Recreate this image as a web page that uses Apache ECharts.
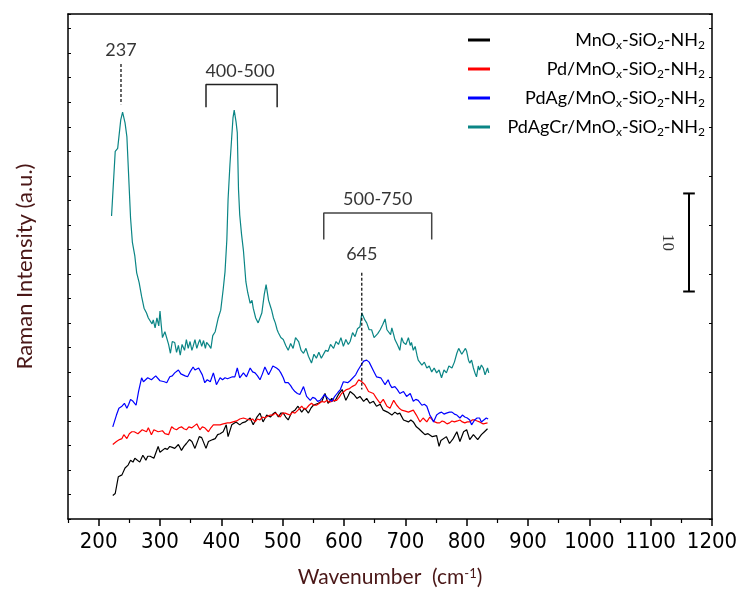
<!DOCTYPE html>
<html>
<head>
<meta charset="utf-8">
<script src="https://cdn.jsdelivr.net/npm/echarts@6/dist/echarts.min.js"></script>
<style>html,body{margin:0;padding:0;background:#fff}#c{width:743px;height:594px}</style>
</head>
<body>
<div id="c"></div>
<script>
// ---- data: [wavenumber (cm-1), intensity (a.u.)] ----
const seriesNames = ['MnOx-SiO2-NH2', 'Pd/MnOx-SiO2-NH2', 'PdAg/MnOx-SiO2-NH2', 'PdAgCr/MnOx-SiO2-NH2'];
const xMajorTicks = [200, 300, 400, 500, 600, 700, 800, 900, 1000, 1100, 1200];
const xMinorTicks = [150, 250, 350, 450, 550, 650, 750, 850, 950, 1050, 1150];

const blackData = [[223,2.4],[227,2.6],[232,4.3],[235,4.2],[238,4.5],[243,5.2],[248,5.5],[252,6.0],[256,5.8],[259,6.2],[262,6.0],[267,5.8],[272,6.5],[277,6.0],[280,6.4],[284,6.4],[287,6.5],[290,6.2],[297,7.4],[300,6.8],[303,6.9],[308,7.2],[312,7.1],[316,7.4],[320,7.3],[324,7.2],[330,7.6],[335,7.0],[339,7.4],[343,7.7],[348,8.1],[352,7.9],[357,7.2],[364,8.4],[368,8.3],[371,8.2],[375,7.2],[379,7.9],[382,7.9],[386,8.1],[390,8.2],[394,8.6],[398,8.7],[403,8.9],[408,9.6],[411,8.4],[417,9.6],[420,9.7],[424,9.9],[427,9.7],[430,9.6],[434,9.8],[439,9.9],[443,10.1],[447,10.3],[452,9.6],[458,10.4],[463,10.8],[468,9.9],[474,10.6],[480,10.4],[484,10.7],[488,10.9],[493,10.4],[497,10.8],[501,10.8],[505,10.4],[509,10.1],[515,10.9],[520,11.1],[525,11.5],[531,10.9],[536,11.3],[542,10.8],[546,11.3],[550,11.6],[554,11.7],[558,11.8],[564,12.0],[569,12.8],[574,11.8],[580,12.3],[585,12.0],[591,12.7],[597,13.2],[603,12.1],[607,12.6],[610,13.0],[616,12.7],[621,12.3],[626,12.5],[632,12.0],[637,12.3],[642,11.8],[648,12.0],[653,11.5],[659,11.7],[664,11.1],[671,10.9],[678,10.6],[683,10.9],[687,10.7],[691,10.8],[697,10.1],[705,9.9],[709,10.1],[713,9.9],[718,9.4],[722,9.2],[727,8.9],[732,8.6],[737,8.7],[744,8.4],[751,8.5],[755,7.4],[758,8.0],[761,8.1],[767,8.4],[772,7.7],[778,8.2],[784,8.9],[789,7.9],[795,8.9],[800,9.1],[805,8.1],[811,8.6],[818,8.1],[824,8.6],[829,8.9],[834,9.2]];

const redData = [[223,7.6],[229,7.9],[234,8.1],[238,8.2],[241,8.6],[246,8.2],[250,8.7],[254,8.9],[258,8.9],[261,9.1],[264,8.7],[267,8.7],[271,9.1],[274,9.1],[278,8.9],[281,9.3],[286,8.6],[290,9.1],[293,9.2],[297,8.9],[300,9.0],[304,9.0],[308,8.7],[314,8.6],[319,9.4],[323,9.2],[327,9.1],[331,9.3],[335,9.4],[339,9.2],[343,9.1],[347,9.4],[352,9.3],[356,9.5],[360,9.7],[365,9.1],[369,9.4],[373,9.3],[379,8.9],[383,9.3],[387,9.6],[393,9.6],[398,9.6],[403,9.7],[406,9.6],[410,9.8],[414,9.8],[419,9.9],[425,10.0],[430,10.2],[436,10.3],[441,10.2],[447,10.1],[451,10.2],[455,9.9],[459,10.2],[463,10.1],[467,10.4],[471,10.3],[476,10.5],[480,10.6],[484,10.6],[488,10.8],[492,10.6],[496,10.4],[500,10.8],[504,10.8],[508,10.7],[512,10.6],[516,10.9],[520,10.8],[525,11.1],[531,11.5],[535,11.2],[539,11.3],[543,11.6],[547,11.8],[551,11.6],[555,11.6],[560,11.8],[564,12.0],[568,11.9],[572,12.1],[576,11.9],[580,12.0],[584,12.1],[588,12.1],[592,12.4],[596,12.8],[600,13.0],[604,13.2],[609,13.3],[613,13.5],[619,13.7],[624,14.2],[627,14.1],[629,14.0],[634,13.7],[640,13.0],[644,12.9],[648,12.8],[653,12.3],[659,11.8],[664,12.2],[670,11.5],[675,11.3],[681,12.1],[686,11.6],[690,11.3],[694,11.1],[700,11.0],[705,10.9],[709,11.0],[713,11.1],[718,10.6],[724,9.9],[729,10.3],[735,9.9],[740,10.4],[744,10.1],[748,9.9],[752,9.8],[756,9.8],[760,10.0],[764,9.9],[768,9.7],[772,9.8],[776,10.0],[780,9.9],[785,10.0],[789,10.1],[793,9.9],[797,9.8],[801,9.9],[805,9.9],[809,10.1],[813,10.1],[817,10.0],[821,9.9],[827,9.7],[830,9.8],[834,9.8]];

const blueData = [[223,9.4],[229,10.6],[233,11.3],[238,11.5],[242,11.8],[246,11.3],[249,11.7],[252,12.2],[256,12.0],[261,11.6],[265,13.0],[270,14.4],[273,14.0],[276,14.0],[280,14.4],[283,14.5],[286,14.2],[289,14.2],[293,14.6],[296,14.4],[300,14.1],[303,13.9],[307,14.0],[311,13.9],[316,14.5],[320,14.6],[324,14.9],[330,15.2],[334,14.8],[337,14.7],[341,14.6],[345,14.5],[349,15.0],[354,15.5],[357,15.2],[360,15.0],[363,15.4],[365,15.6],[369,14.7],[373,13.9],[377,14.2],[382,14.0],[387,14.9],[390,14.2],[392,13.7],[398,14.4],[402,14.2],[406,14.4],[410,14.3],[414,14.4],[418,14.5],[422,14.5],[426,15.4],[430,14.4],[436,14.9],[441,14.5],[447,15.4],[451,15.0],[455,14.9],[459,14.6],[463,14.2],[467,14.8],[471,15.5],[477,14.7],[481,15.2],[484,15.6],[490,15.4],[494,15.2],[497,14.9],[501,14.4],[504,13.9],[509,13.9],[513,13.6],[516,13.3],[520,13.0],[524,12.8],[528,12.7],[534,13.5],[539,12.5],[545,12.1],[549,12.4],[553,12.3],[557,12.0],[561,12.1],[565,12.4],[568,12.7],[574,12.3],[580,12.0],[585,12.5],[590,12.9],[594,13.2],[599,14.0],[602,13.8],[606,13.9],[610,14.1],[613,14.2],[619,14.7],[623,15.2],[626,15.5],[629,15.7],[632,16.1],[637,16.2],[641,16.0],[644,15.9],[649,15.0],[653,14.5],[656,14.5],[660,14.4],[664,14.0],[667,13.7],[672,14.2],[675,13.7],[678,13.4],[683,13.5],[687,13.2],[691,12.8],[697,13.0],[702,12.5],[708,12.8],[713,12.0],[717,12.2],[721,12.1],[727,11.6],[731,11.7],[735,11.5],[740,10.6],[743,10.3],[746,9.9],[751,10.6],[755,10.8],[759,10.9],[763,10.7],[767,10.8],[772,10.9],[776,10.9],[780,10.7],[784,10.6],[789,10.3],[793,10.6],[797,10.4],[801,10.3],[805,10.1],[808,9.6],[813,10.1],[817,10.3],[821,10.3],[824,9.9],[827,10.1],[832,10.3],[835,10.2]];

const tealData = [[221,30.9],[227,37.5],[231,37.8],[236,40.7],[239,41.5],[243,40.4],[246,39.0],[252,30.7],[255,28.2],[259,26.8],[262,25.1],[266,24.1],[270,22.7],[274,21.5],[278,21.0],[281,20.5],[284,20.7],[287,19.9],[289,20.3],[292,19.5],[295,20.5],[298,19.7],[300,21.2],[302,19.8],[304,18.5],[308,19.1],[311,19.0],[314,17.8],[317,16.9],[320,18.1],[324,18.0],[327,17.0],[330,17.7],[333,16.7],[336,17.8],[340,17.2],[343,18.3],[346,17.4],[349,18.1],[352,17.2],[354,17.6],[357,18.3],[360,17.4],[363,18.0],[365,18.3],[368,17.6],[371,18.2],[374,17.4],[376,18.0],[380,17.7],[383,17.4],[386,18.7],[390,19.1],[393,19.0],[395,20.5],[399,21.3],[403,23.4],[406,25.2],[409,28.5],[411,32.6],[414,36.1],[417,39.0],[419,40.9],[421,41.7],[424,40.5],[426,39.4],[428,33.6],[430,31.0],[433,29.0],[436,27.4],[440,24.2],[443,23.1],[447,22.0],[450,22.3],[452,21.5],[456,20.5],[460,20.0],[463,20.5],[466,21.0],[470,22.9],[473,23.9],[477,22.3],[480,21.7],[482,21.3],[485,20.5],[488,20.0],[491,19.3],[493,19.0],[497,18.5],[501,18.3],[505,17.7],[509,17.2],[513,17.9],[517,17.4],[521,18.5],[526,18.1],[530,17.2],[534,16.9],[538,17.4],[542,16.6],[545,16.2],[547,15.9],[551,16.8],[555,16.4],[559,17.0],[563,16.4],[566,16.6],[570,17.2],[574,17.1],[578,17.8],[583,17.4],[587,18.1],[591,17.8],[595,18.5],[599,17.6],[603,18.3],[607,17.8],[610,18.1],[614,19.0],[618,18.6],[622,19.4],[626,19.6],[629,21.0],[631,20.8],[634,20.3],[637,20.0],[641,19.3],[645,19.3],[649,18.5],[651,18.3],[655,18.9],[659,19.3],[663,19.8],[667,20.4],[670,19.3],[672,19.5],[676,18.8],[678,19.5],[681,18.8],[683,18.3],[687,17.8],[691,17.2],[694,18.5],[697,18.0],[701,17.8],[705,18.5],[708,17.7],[710,18.0],[713,17.2],[716,17.6],[719,16.7],[721,16.2],[724,16.4],[727,15.7],[731,16.0],[735,15.4],[739,15.6],[743,15.0],[747,15.4],[751,14.9],[755,15.2],[759,14.4],[763,15.2],[767,14.9],[771,15.6],[776,15.4],[780,16.0],[784,16.9],[787,17.4],[789,17.6],[792,16.8],[795,16.7],[798,17.4],[800,17.1],[803,16.2],[805,15.9],[808,16.2],[811,15.4],[814,14.8],[816,14.5],[819,15.6],[821,15.2],[824,15.7],[827,15.4],[830,14.7],[832,14.7],[834,15.4],[836,14.9]];

const seriesData = [blackData, redData, blueData, tealData];
const seriesColors = ['#000000', '#ff0000', '#0000ff', '#0a8585'];

// annotation labels
const peakLabels = ['237', '645'];
const rangeLabels = ['400-500', '500-750'];
const scaleLabel = '10';

// ---- chart ----
const chart = echarts.init(document.getElementById('c'));
const sansFont = 'Lato, "Open Sans", sans-serif';
const tickFont = '"Liberation Sans Narrow", "DejaVu Sans Condensed", sans-serif';

function richName(n) {
  let s = n.replace(/Ox/g, 'O}{s|x}{n|').replace(/([A-Za-z])2/g, '$1}{s|2}{n|');
  return ('{n|' + s + '}').replace(/\{n\|\}/g, '');
}

function segSeries(points, opts) {
  return Object.assign({
    type: 'line', data: points, showSymbol: false, silent: true, animation: false,
    xAxisIndex: 0, yAxisIndex: 0, z: 5,
    lineStyle: { color: '#000', width: 1.3 }
  }, opts || {});
}
function textSeries(items, opts) {
  return {
    type: 'scatter', silent: true, animation: false, symbolSize: 0, z: 6,
    data: items.map(it => ({ value: [it.x, it.y], label: { formatter: it.t, rotate: it.rot || 0 } })),
    label: Object.assign({ show: true, position: 'inside', color: '#000', fontSize: 18, fontFamily: sansFont }, opts || {})
  };
}

const mainSeries = seriesNames.map((n, i) => ({
  name: n, type: 'line', data: seriesData[i], showSymbol: false, animation: false,
  lineStyle: { color: seriesColors[i], width: 1.2 }, itemStyle: { color: seriesColors[i] }, z: 3
}));

const annSeries = [
  segSeries([[236.4, 46.4], [236.4, 42.3]], { lineStyle: { color: '#000', width: 1.2, type: [3, 2] } }),
  segSeries([[629, 25.1], [629, 13.2]], { lineStyle: { color: '#000', width: 1.2, type: [3, 2] } }),
  segSeries([[375, 42.0], [375, 44.3], [491, 44.3], [491, 42.0]], { lineStyle: { color: '#222', width: 1.5 } }),
  segSeries([[567, 28.5], [567, 31.2], [743, 31.2], [743, 28.5]], { lineStyle: { color: '#444', width: 1.5 } }),
  segSeries([[1162.5, 23.2], [1162.5, 33.2]], { lineStyle: { color: '#000', width: 2 } }),
  segSeries([[1153, 33.2], [1172, 33.2]], { lineStyle: { color: '#000', width: 2 } }),
  segSeries([[1153, 23.2], [1172, 23.2]], { lineStyle: { color: '#000', width: 2 } }),
  textSeries([
    { x: 236.4, y: 47.8, t: peakLabels[0] },
    { x: 629, y: 27.0, t: peakLabels[1] },
    { x: 430.5, y: 45.7, t: rangeLabels[0] },
    { x: 655, y: 32.6, t: rangeLabels[1] }
  ]),
  textSeries([{ x: 1128, y: 28.2, t: scaleLabel, rot: -90 }], { fontFamily: '"Liberation Serif", "DejaVu Serif", serif', fontSize: 17 })
];

const option = {
  animation: false,
  backgroundColor: '#fff',
  grid: { left: 68, right: 31, top: 14, bottom: 75, containLabel: false },
  legend: {
    data: seriesNames,
    orient: 'vertical', left: 463, top: 26,
    icon: 'rect', itemWidth: 22, itemHeight: 3, itemGap: 9,
    formatter: richName,
    textStyle: {
      width: 210, align: 'right', color: '#000',
      rich: {
        n: { fontSize: 18, fontFamily: sansFont, color: '#000', lineHeight: 22, align: 'right' },
        s: { fontSize: 12, fontFamily: sansFont, color: '#000', lineHeight: 12, verticalAlign: 'bottom', align: 'right' }
      }
    }
  },
  xAxis: [
    {
      type: 'value', min: 150, max: 1200, position: 'bottom',
      name: '{n|Wavenumber  (cm}{u|-1}{n|)}', nameLocation: 'middle', nameGap: 48,
      nameTextStyle: { rich: {
        n: { fontSize: 21, fontFamily: sansFont, color: '#4a1717' },
        u: { fontSize: 13, fontFamily: sansFont, color: '#4a1717', verticalAlign: 'top', padding: [0, 0, 8, 0] }
      } },
      axisLine: { show: true, lineStyle: { color: '#000', width: 1.5 } },
      axisTick: { show: true, length: 7, customValues: xMajorTicks, lineStyle: { color: '#000', width: 1.5 } },
      axisLabel: { show: true, customValues: xMajorTicks, formatter: v => String(v), fontSize: 22, fontFamily: tickFont, color: '#000', margin: 12 },
      splitLine: { show: false }
    },
    {
      type: 'value', min: 150, max: 1200, position: 'bottom',
      axisLine: { show: false },
      axisTick: { show: true, length: 4, customValues: xMinorTicks, lineStyle: { color: '#000', width: 1.2 } },
      axisLabel: { show: false }, splitLine: { show: false }
    },
    {
      type: 'value', min: 150, max: 1200, position: 'top',
      axisLine: { show: true, lineStyle: { color: '#000', width: 1.5 } },
      axisTick: { show: false }, axisLabel: { show: false }, splitLine: { show: false }
    }
  ],
  yAxis: [
    {
      type: 'value', min: 0, max: 51.5, interval: 2.5, position: 'left',
      name: 'Raman Intensity (a.u.)', nameLocation: 'middle', nameGap: 32,
      nameTextStyle: { fontSize: 22, fontFamily: sansFont, color: '#4a1717' },
      axisLine: { show: true, lineStyle: { color: '#000', width: 1.5 } },
      axisTick: { show: true, inside: true, length: 3, lineStyle: { color: '#000', width: 1 } },
      axisLabel: { show: false }, splitLine: { show: false }
    },
    {
      type: 'value', min: 0, max: 51.5, interval: 5, position: 'right',
      axisLine: { show: true, lineStyle: { color: '#000', width: 1.5 } },
      axisTick: { show: true, inside: true, length: 3, lineStyle: { color: '#000', width: 1 } },
      axisLabel: { show: false }, splitLine: { show: false }
    }
  ],
  series: mainSeries.concat(annSeries)
};
chart.setOption(option);
</script>
</body>
</html>
